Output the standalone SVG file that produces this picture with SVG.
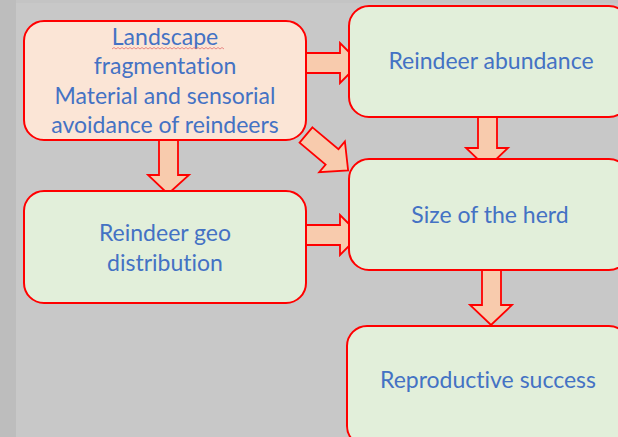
<svg xmlns="http://www.w3.org/2000/svg" width="618" height="437" viewBox="0 0 618 437">
<style>
.peach{fill:#fbe5d6;stroke:#ff0000;stroke-width:2}
.green{fill:#e2efda;stroke:#ff0000;stroke-width:2}
.arr{fill:#f8cbad;stroke:#ff0000;stroke-width:1.8;stroke-linejoin:miter}
.t{font-family:Lato,"Open Sans","Liberation Sans",sans-serif;font-size:23px;fill:#4472c4;text-anchor:middle;font-variant-ligatures:none}
</style>
<rect x="0" y="0" width="618" height="437" fill="#c8c8c8"/>
<rect x="0" y="0" width="16" height="437" fill="#bdbdbd"/>
<rect x="16" y="0" width="602" height="3" fill="#c4c4c4"/>
<g id="connectors">
<polygon class="arr" points="306,53 340,53 340,43 360,63 340,83 340,73 306,73"/>
<polygon class="arr" points="478,115 497,115 497,148 508,148 487,168 466,148 478,148"/>
<polygon class="arr" points="159,140 178,140 178,175 189,175 168,194 148,175 159,175"/>
<polygon class="arr" points="306,225 340,225 340,215 360,235 340,255 340,245 306,245"/>
<polygon class="arr" transform="translate(306,135) rotate(40)" points="0,-10 34,-10 34,-20 55,0 34,20 34,10 0,10"/>
<polygon class="arr" points="482,269 501,269 501,305 512,305 491,325 470,305 482,305"/>
</g>
<g id="n-landscape">
<rect class="peach" x="24" y="21" width="282" height="119" rx="20"/>
<text class="t" x="165" y="45">Landscape</text>
<path d="M112,49 l2,-1.5 l2,1.5 l2,-1.5 l2,1.5 l2,-1.5 l2,1.5 l2,-1.5 l2,1.5 l2,-1.5 l2,1.5 l2,-1.5 l2,1.5 l2,-1.5 l2,1.5 l2,-1.5 l2,1.5 l2,-1.5 l2,1.5 l2,-1.5 l2,1.5 l2,-1.5 l2,1.5 l2,-1.5 l2,1.5 l2,-1.5 l2,1.5 l2,-1.5 l2,1.5 l2,-1.5 l2,1.5 l2,-1.5 l2,1.5 l2,-1.5 l2,1.5 l2,-1.5 l2,1.5 l2,-1.5 l2,1.5 l2,-1.5 l2,1.5 l2,-1.5 l2,1.5 l2,-1.5 l2,1.5 l2,-1.5 l2,1.5 l2,-1.5 l2,1.5 l2,-1.5 l2,1.5 l2,-1.5 l2,1.5 l2,-1.5 l2,1.5 l2,-1.5 l2,1.5" fill="none" stroke="#e06060" stroke-width="0.7"/>
<text class="t" x="165" y="74">fragmentation</text>
<text class="t" x="165" y="104">Material and sensorial</text>
<text class="t" x="165" y="133">avoidance of reindeers</text>
</g>
<g id="n-abundance">
<rect class="green" x="349" y="6" width="280" height="111" rx="20"/>
<text class="t" x="491" y="69">Reindeer abundance</text>
</g>
<g id="n-herd">
<rect class="green" x="349" y="159" width="280" height="111" rx="20"/>
<text class="t" x="490" y="223">Size of the herd</text>
</g>
<g id="n-geo">
<rect class="green" x="24" y="191" width="282" height="112" rx="20"/>
<text class="t" x="165" y="241">Reindeer geo</text>
<text class="t" x="165" y="271">distribution</text>
</g>
<g id="n-repro">
<rect class="green" x="347" y="326" width="282" height="120" rx="20"/>
<text class="t" x="488" y="388">Reproductive success</text>
</g>
</svg>
